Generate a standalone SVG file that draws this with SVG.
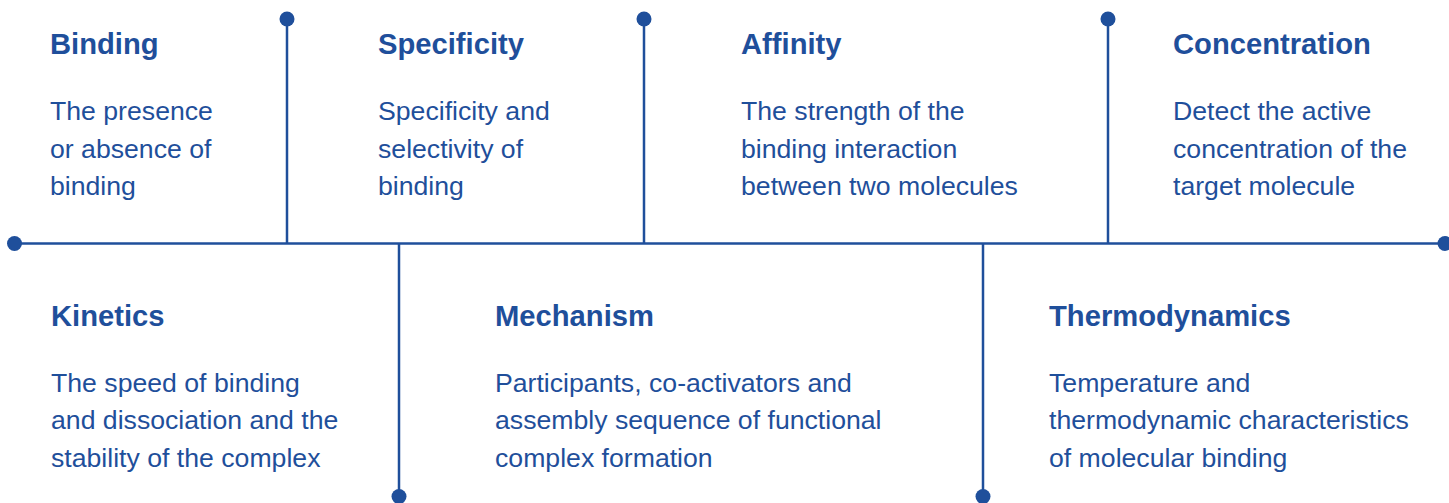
<svg xmlns="http://www.w3.org/2000/svg" width="1449" height="503" viewBox="0 0 1449 503">
<style>
.ln{stroke:#1f4f9b;stroke-width:2.5;fill:none}
.dot{fill:#1f4f9b}
.t{font-family:"Liberation Sans",Arial,sans-serif;font-weight:bold;font-size:29.2px;fill:#1f4f9b}
.b{font-family:"Liberation Sans",Arial,sans-serif;font-size:26.65px;fill:#1f4f9b}
</style>
<rect width="1449" height="503" fill="#ffffff"/>
<g id="connectors">
<line class="ln" x1="14.5" y1="243.5" x2="1445" y2="243.5"/>
<line class="ln" x1="287" y1="19" x2="287" y2="243.5"/>
<line class="ln" x1="644" y1="19" x2="644" y2="243.5"/>
<line class="ln" x1="1108" y1="19" x2="1108" y2="243.5"/>
<line class="ln" x1="399" y1="243.5" x2="399" y2="496"/>
<line class="ln" x1="983" y1="243.5" x2="983" y2="496"/>
<circle class="dot" cx="14.5" cy="243.5" r="7.5"/>
<circle class="dot" cx="1445" cy="243.5" r="7.5"/>
<circle class="dot" cx="287" cy="19" r="7.5"/>
<circle class="dot" cx="644" cy="19" r="7.5"/>
<circle class="dot" cx="1108" cy="19" r="7.5"/>
<circle class="dot" cx="399" cy="496.5" r="7.5"/>
<circle class="dot" cx="983" cy="496.5" r="7.5"/>
</g>
<g id="binding">
<text class="t" x="50" y="54">Binding</text>
<text class="b" x="50" y="120">The presence</text>
<text class="b" x="50" y="157.5">or absence of</text>
<text class="b" x="50" y="195">binding</text>
</g>
<g id="specificity">
<text class="t" x="378" y="54">Specificity</text>
<text class="b" x="378" y="120">Specificity and</text>
<text class="b" x="378" y="157.5">selectivity of</text>
<text class="b" x="378" y="195">binding</text>
</g>
<g id="affinity">
<text class="t" x="741" y="54">Affinity</text>
<text class="b" x="741" y="120">The strength of the</text>
<text class="b" x="741" y="157.5">binding interaction</text>
<text class="b" x="741" y="195">between two molecules</text>
</g>
<g id="concentration">
<text class="t" x="1173" y="54">Concentration</text>
<text class="b" x="1173" y="120">Detect the active</text>
<text class="b" x="1173" y="157.5">concentration of the</text>
<text class="b" x="1173" y="195">target molecule</text>
</g>
<g id="kinetics">
<text class="t" x="51" y="326">Kinetics</text>
<text class="b" x="51" y="392">The speed of binding</text>
<text class="b" x="51" y="429">and dissociation and the</text>
<text class="b" x="51" y="466.5">stability of the complex</text>
</g>
<g id="mechanism">
<text class="t" x="495" y="326">Mechanism</text>
<text class="b" x="495" y="392">Participants, co-activators and</text>
<text class="b" x="495" y="429">assembly sequence of functional</text>
<text class="b" x="495" y="466.5">complex formation</text>
</g>
<g id="thermodynamics">
<text class="t" x="1049" y="326">Thermodynamics</text>
<text class="b" x="1049" y="392">Temperature and</text>
<text class="b" x="1049" y="429">thermodynamic characteristics</text>
<text class="b" x="1049" y="466.5">of molecular binding</text>
</g>
</svg>
